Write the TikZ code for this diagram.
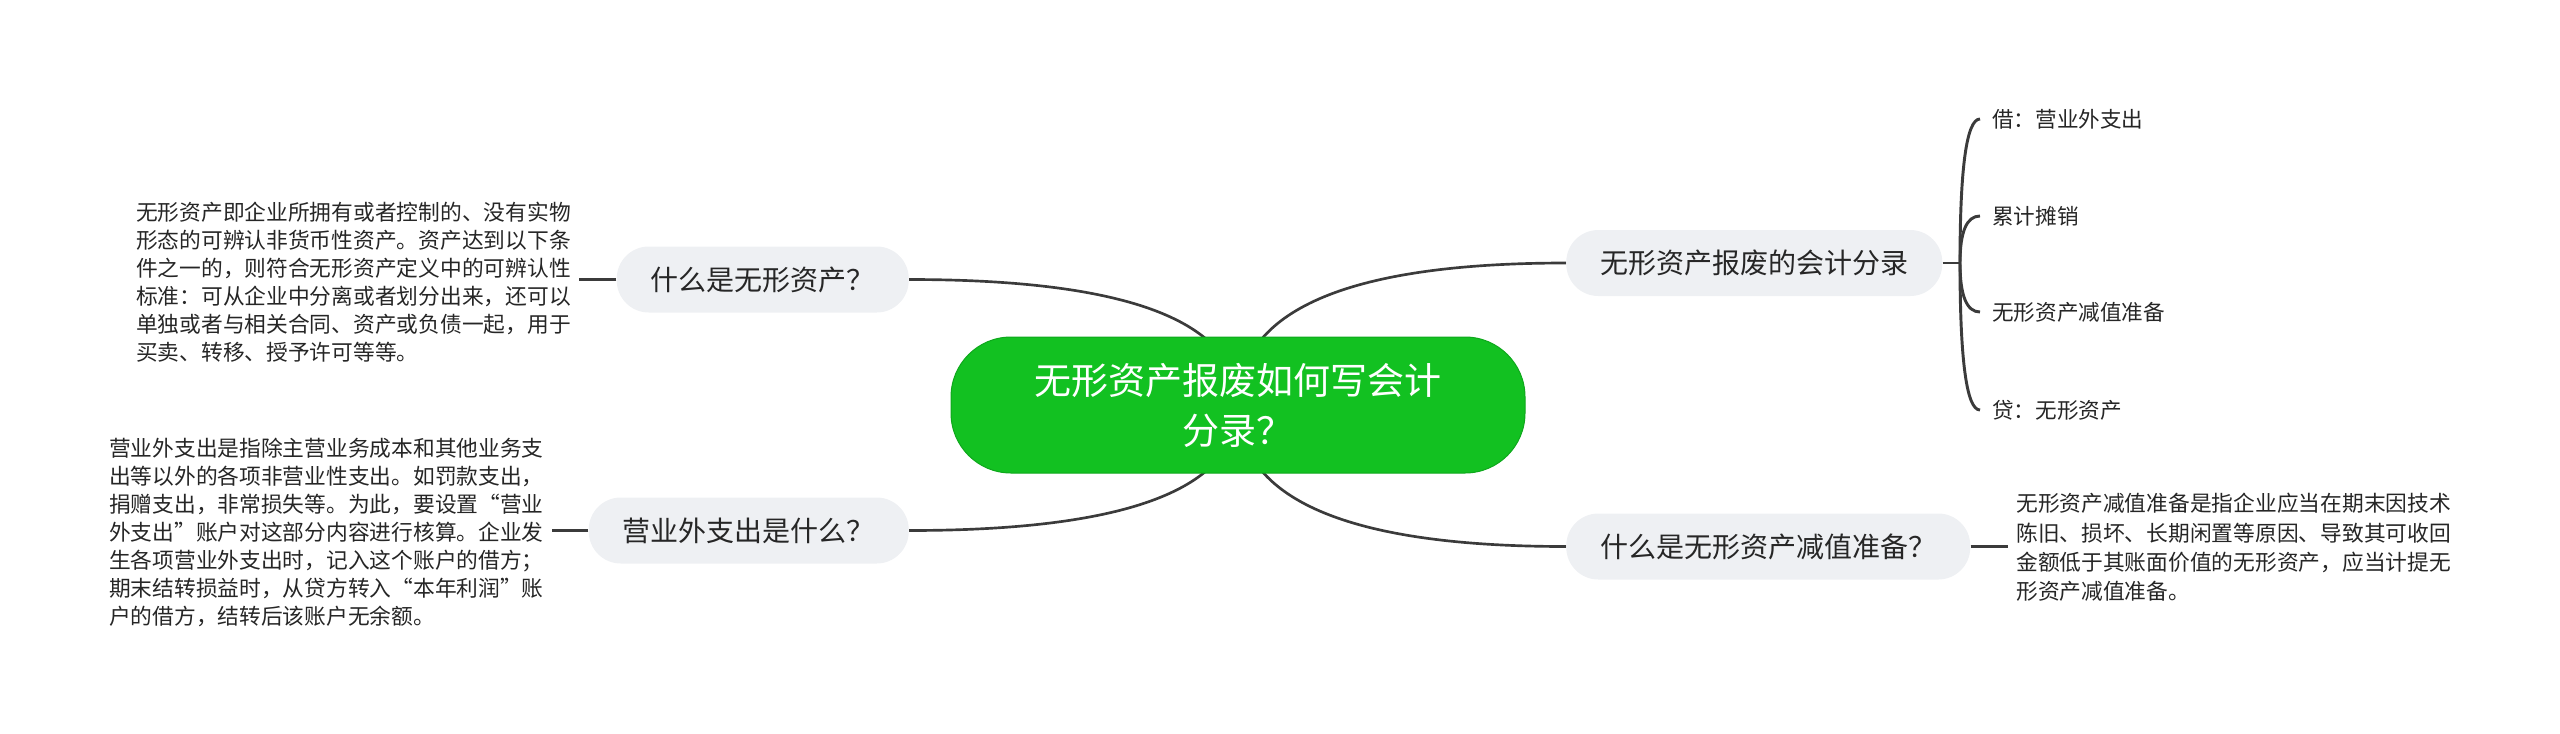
\documentclass[tikz,border=0pt]{standalone}
\usepackage{fontspec}
\setmainfont{Noto Sans CJK SC}
\usetikzlibrary{calc}
\definecolor{rootgreen}{RGB}{18,193,33}
\definecolor{rootedge}{RGB}{14,168,28}
\definecolor{topicfill}{HTML}{EEF0F3}
\definecolor{linecol}{HTML}{3B3B3B}
\definecolor{txt}{HTML}{262626}
\pgfdeclarelayer{bg}
\pgfsetlayers{bg,main}
\begin{document}
\begin{tikzpicture}[x=0.75pt,y=-0.75pt,
  rootbox/.style={rectangle, rounded corners=45pt, fill=rootgreen, draw=rootedge, line width=0.75pt,
    minimum width=430.5pt, minimum height=102pt, align=center, text=white,
    font=\fontsize{27.75pt}{37.5pt}\selectfont},
  topic/.style={rectangle, rounded corners=24pt, fill=topicfill, minimum height=49.5pt,
    inner xsep=25.5pt, inner ysep=0pt, text=txt, font=\fontsize{21pt}{26pt}\selectfont},
  note/.style={inner xsep=6pt, inner ysep=0pt, align=left, text=txt,
    font=\fontsize{16.3pt}{21pt}\selectfont},
  sub/.style={inner xsep=9pt, inner ysep=0pt, text=txt, font=\fontsize{16.2pt}{20pt}\selectfont},
  branch/.style={draw=linecol, line width=2pt},
  link/.style={draw=linecol, line width=2.2pt},
]
\useasboundingbox (0,0) rectangle (2560,733);

% central topic and main topics
\node[rootbox] (root) at (1238,405) {无形资产报废如何写会计\\分录？};
\node[topic, anchor=west] (R1) at (1566,263) {无形资产报废的会计分录};
\node[topic, anchor=west] (R2) at (1566,546.5) {什么是无形资产减值准备？};
\node[topic, anchor=east] (L1) at (909,279.5) {什么是无形资产？};
\node[topic, anchor=east] (L2) at (909,530.5) {营业外支出是什么？};

% notes
\node[note, anchor=east] (N1) at (579,282) {无形资产即企业所拥有或者控制的、没有实物\\形态的可辨认非货币性资产。资产达到以下条\\件之一的，则符合无形资产定义中的可辨认性\\标准：可从企业中分离或者划分出来，还可以\\单独或者与相关合同、资产或负债一起，用于\\买卖、转移、授予许可等等。};
\node[note, anchor=east] (N2) at (552,532) {营业外支出是指除主营业务成本和其他业务支\\出等以外的各项非营业性支出。如罚款支出，\\捐赠支出，非常损失等。为此，要设置“营业\\外支出”账户对这部分内容进行核算。企业发\\生各项营业外支出时，记入这个账户的借方；\\期末结转损益时，从贷方转入“本年利润”账\\户的借方，结转后该账户无余额。};
\node[note, anchor=west, font=\fontsize{16.3pt}{22pt}\selectfont] (N3) at (2008,547.5) {无形资产减值准备是指企业应当在期末因技术\\陈旧、损坏、长期闲置等原因、导致其可收回\\金额低于其账面价值的无形资产，应当计提无\\形资产减值准备。};

% sub entries
\coordinate (J) at (1960,263);
\node[sub, anchor=west] (S1) at (1980,119) {借：营业外支出};
\node[sub, anchor=west] (S2) at (1980,216) {累计摊销};
\node[sub, anchor=west] (S3) at (1980,312) {无形资产减值准备};
\node[sub, anchor=west] (S4) at (1980,410) {贷：无形资产};

% connectors
\begin{pgfonlayer}{bg}
  \foreach \t/\a in {L1/east, L2/east, R1/west, R2/west}{
    \draw[branch] (root.center) .. controls ($(root.center)!0.6667!(root.center |- \t.\a)$)
      and ($(\t.\a)!0.6667!(root.center |- \t.\a)$) .. (\t.\a);
  }
\end{pgfonlayer}
\draw[link] (L1.west) -- (L1.west -| N1.east);
\draw[link] (L2.west) -- (L2.west -| N2.east);
\draw[link] (R2.east) -- (R2.east -| N3.west);
\draw[link] (R1.east) -- (J);
\foreach \s in {S1,S2,S3,S4}{
  \draw[link] (J) .. controls ($(J)!0.6667!(J |- \s.west)$)
    and ($(\s.west)!0.6667!(J |- \s.west)$) .. (\s.west);
}
\end{tikzpicture}
\end{document}
